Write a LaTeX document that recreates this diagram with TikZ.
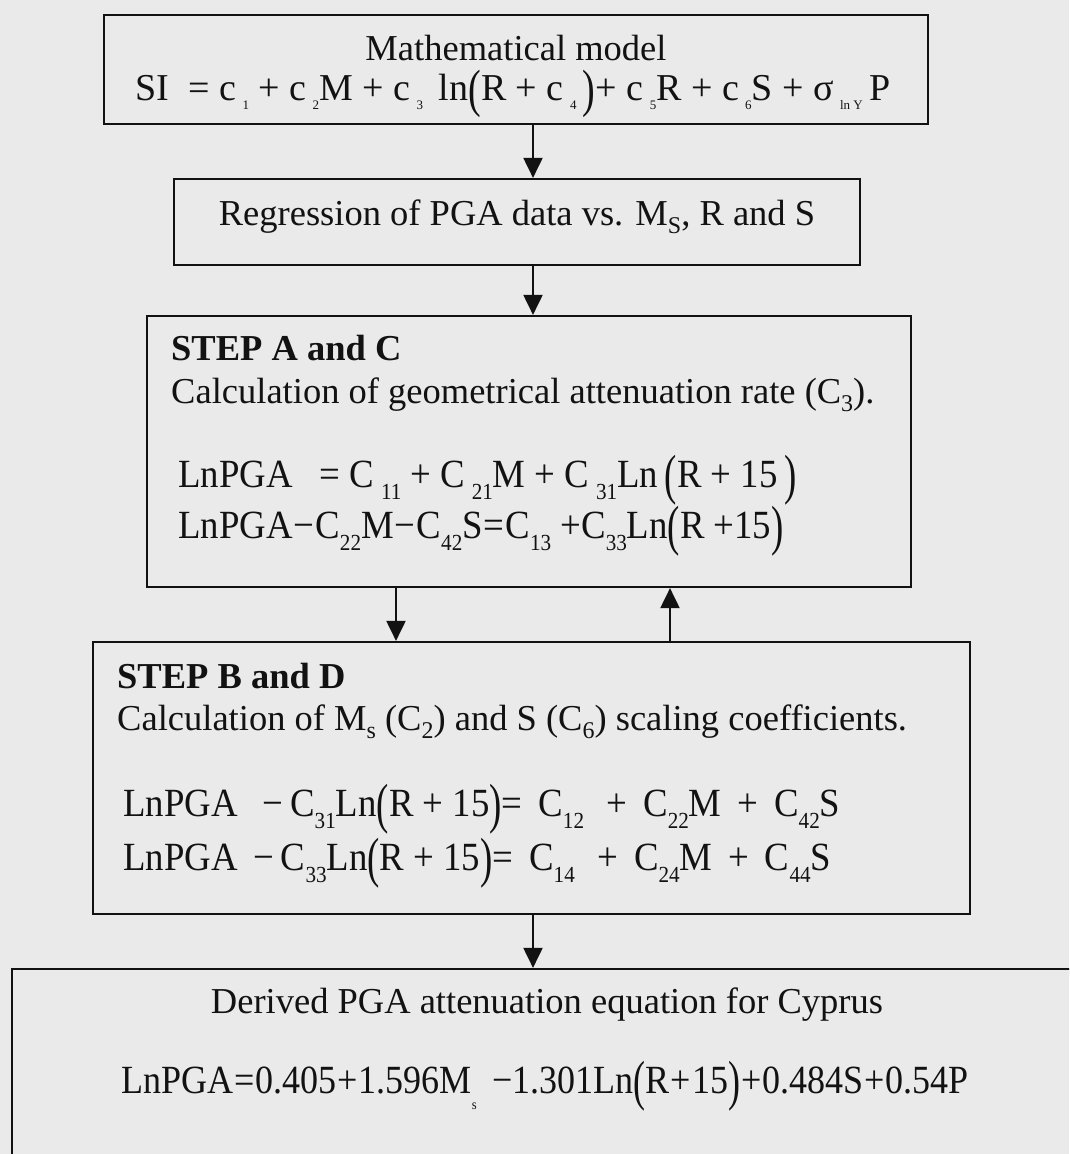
\documentclass[tikz,border=0pt]{standalone}
\usepackage{fontspec}
\setmainfont{Liberation Serif}
\newfontfamily\eqf[FakeStretch=0.92]{Liberation Serif}
\newfontfamily\eqg[FakeStretch=0.9]{Liberation Serif}
\usetikzlibrary{arrows.meta}
\definecolor{bg}{RGB}{234,234,234}
\definecolor{ink}{RGB}{18,18,18}
\newcommand{\sbs}[1]{\raisebox{-0.30em}{\fontsize{23}{23}\selectfont #1}}
\newcommand{\tsb}[1]{\raisebox{-0.22em}{\fontsize{24}{24}\selectfont #1}}
\newcommand{\tinysb}[1]{\raisebox{-0.25em}{\fontsize{13}{13}\selectfont #1}}
\newcommand{\lowsb}[1]{\raisebox{-0.40em}{\fontsize{14}{14}\selectfont #1}}
\newcommand{\bpar}[1]{\raisebox{-0.16em}{\scalebox{1}[1.38]{#1}}}
\tikzset{
  box/.style={draw=ink, line width=2.2pt, fill=bg, inner sep=0pt},
  txt/.style={anchor=base west, inner sep=0pt, text=ink, font=\fontsize{36.5}{42}\selectfont},
  ctxt/.style={anchor=base, inner sep=0pt, text=ink, font=\fontsize{36.5}{42}\selectfont},
  eqt/.style={anchor=base west, inner sep=0pt, text=ink, font=\fontsize{40}{46}\eqf},
  ceqt/.style={anchor=base, inner sep=0pt, text=ink, font=\fontsize{40}{46}\eqg},
  arr/.style={draw=ink, line width=2pt, -{Triangle[width=19pt,length=20pt]}}
}
\begin{document}
\begin{tikzpicture}[x=1pt,y=-1pt]
\useasboundingbox (0,0) rectangle (1069,1154);
\fill[bg] (0,0) rectangle (1069,1154);
\clip (0,0) rectangle (1069,1154);
% boxes
\node[box, minimum width=824pt, minimum height=109pt] (b1) at (516,69.5) {};
\node[box, minimum width=686pt, minimum height=86pt] (b2) at (517,222) {};
\node[box, minimum width=764pt, minimum height=271pt] (b3) at (529,451.5) {};
\node[box, minimum width=877pt, minimum height=272pt] (b4) at (531.5,778) {};
\node[box, minimum width=1070pt, minimum height=205pt] (b5) at (547,1071.5) {};
% connector columns
\coordinate (cA) at (533,0);
\coordinate (cB) at (396,0);
\coordinate (cC) at (670,0);
% connectors
\draw[arr] (b1.south -| cA) -- (b2.north -| cA);
\draw[arr] (b2.south -| cA) -- (b3.north -| cA);
\draw[arr] (b3.south -| cB) -- (b4.north -| cB);
\draw[arr] (b4.north -| cC) -- (b3.south -| cC);
\draw[arr] (b4.south -| cA) -- (b5.north -| cA);
% box 1
\node[ctxt] (t1) at (516,60) {Mathematical model};
\node[anchor=base, inner sep=0pt, text=ink, font=\fontsize{38}{44}\selectfont] (e1) at (513,100) {SI \ = c\,\tinysb{1} + c\,\tinysb{2}M + c\,\tinysb{3}\, ln\bpar{(}R + c\,\tinysb{4}\,\bpar{)}+ c\,\tinysb{5}R + c\,\tinysb{6}S + σ\,\tinysb{ln Y}\,P};
% box 2
\node[ctxt] (t2) at (517,225) {Regression of PGA data vs. M\tsb{S}, R and S};
% box 3
\node[txt, font=\bfseries\fontsize{36.5}{42}\selectfont] (t3a) at (171,360) {STEP A and C};
\node[txt] (t3b) at (171,403) {Calculation of geometrical attenuation rate (C\tsb{3}).};
\node[eqt] (e3a) at (178,487) {LnPGA\hspace{0.45em} = C\,\sbs{11} + C\,\sbs{21}M + C\,\sbs{31}Ln\,\bpar{(}R + 15\,\bpar{)}};
\node[eqt] (e3b) at (178,538) {LnPGA\kern1pt−\kern1ptC\sbs{22}M\kern1pt−\kern1ptC\sbs{42}S\kern1pt=\kern1ptC\sbs{13} +C\sbs{33}Ln\bpar{(}R +15\bpar{)}};
% box 4
\node[txt, font=\bfseries\fontsize{36.5}{42}\selectfont] (t4a) at (117,688) {STEP B and D};
\node[txt] (t4b) at (117,730) {Calculation of M\tsb{s} (C\tsb{2}) and S (C\tsb{6}) scaling coefficients.};
\node[eqt] (e4a) at (123,816) {LnPGA \,\ −\,C\sbs{31}Ln\bpar{(}R + 15\bpar{)}=\, C\sbs{12} \,\,+\, C\sbs{22}M \,+\, C\sbs{42}S};
\node[eqt] (e4b) at (123,870) {LnPGA \,−\,C\sbs{33}Ln\bpar{(}R + 15\bpar{)}=\, C\sbs{14} \,\,+\, C\sbs{24}M \,+\, C\sbs{44}S};
% box 5
\node[ctxt] (t5) at (547,1013) {Derived PGA attenuation equation for Cyprus};
\node[ceqt] (e5) at (545,1093) {LnPGA\kern1pt=\kern1pt0.405\kern1pt+\kern1pt1.596M\lowsb{s}\, −1.301Ln\bpar{(}R\kern1pt+\kern1pt15\bpar{)}\kern1pt+\kern1pt0.484S\kern1pt+\kern1pt0.54P};
\end{tikzpicture}
\end{document}
